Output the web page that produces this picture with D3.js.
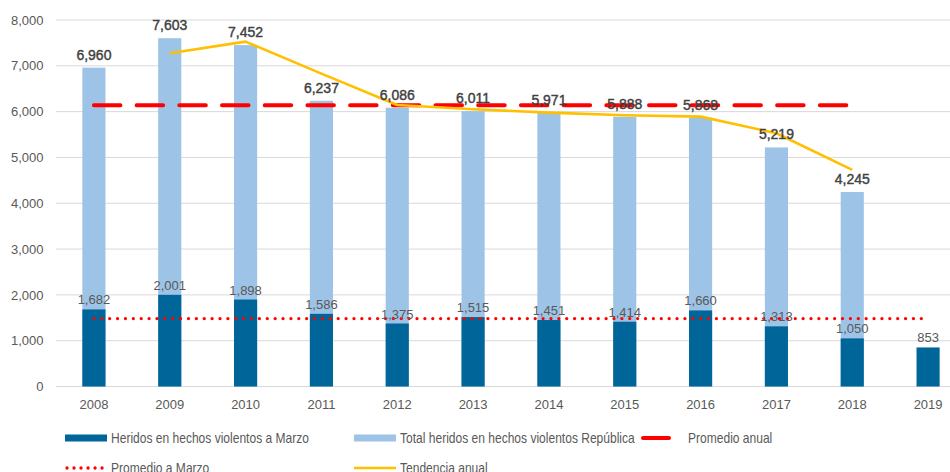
<!DOCTYPE html>
<html><head><meta charset="utf-8">
<script src="https://cdn.jsdelivr.net/npm/d3@7"></script>
<style>
body{margin:0;background:#fff;}
text{font-family:"Liberation Sans",Arial,sans-serif;}
</style></head>
<body><svg id="c" width="950" height="472"></svg>
<script>
const years = ["2008","2009","2010","2011","2012","2013","2014","2015","2016","2017","2018","2019"];
const heridosMarzo = [1682,2001,1898,1586,1375,1515,1451,1414,1660,1313,1050,853];
const totalRepublica = [6960,7603,7452,6237,6086,6011,5971,5888,5868,5219,4245,null];
const promedioAnual = [6140,6140,6140,6140,6140,6140,6140,6140,6140,6140,6140,null];
const promedioMarzo = [1483,1483,1483,1483,1483,1483,1483,1483,1483,1483,1483,1483];
const tendenciaAnual = [null,7273,7528,6830,6146,6052,5978,5921,5891,5528,4727,null];
const yTicks = [0,1000,2000,3000,4000,5000,6000,7000,8000];
const legendLabels = ["Heridos en hechos violentos a Marzo","Total heridos en hechos violentos República","Promedio anual","Promedio a Marzo","Tendencia anual"];

const svg = d3.select("#c");
const x = d3.scaleBand().domain(years).range([56,966]).paddingInner(0.695).paddingOuter(0.3475);
const y = d3.scaleLinear().domain([0,8000]).range([386.5,20]);
const cx = d => x(d) + x.bandwidth()/2;
const fmt = d3.format(",");

// gridlines
svg.append("g").selectAll("line").data(yTicks).join("line")
  .attr("x1",56).attr("x2",950).attr("y1",d=>y(d)).attr("y2",d=>y(d))
  .attr("stroke","#d9d9d9").attr("stroke-width",1);

// y axis
const yAxis = d3.axisLeft(y).tickValues(yTicks).tickFormat(fmt).tickSize(0).tickPadding(0);
const ga = svg.append("g").attr("transform","translate(43.5,0)").call(yAxis);
ga.select(".domain").remove();
ga.selectAll("text").attr("fill","#595959").style("font-size","13px")
  .style("font-family","'Liberation Sans',Arial,sans-serif");

// x axis
const xAxis = d3.axisBottom(x).tickSize(0).tickPadding(0);
const gx = svg.append("g").attr("transform","translate(0,400)").call(xAxis);
gx.select(".domain").remove();
gx.selectAll("text").attr("fill","#595959").style("font-size","13px").attr("dy","0.71em")
  .style("font-family","'Liberation Sans',Arial,sans-serif");

const data = years.map((yr,i)=>({yr, m:heridosMarzo[i], t:totalRepublica[i], pa:promedioAnual[i], pm:promedioMarzo[i], tr:tendenciaAnual[i]}));

// total bars
svg.append("g").selectAll("rect").data(data.filter(d=>d.t!=null)).join("rect")
  .attr("x",d=>x(d.yr)).attr("width",x.bandwidth())
  .attr("y",d=>y(d.t)).attr("height",d=>y(0)-y(d.t)).attr("fill","#9dc3e6");
// marzo bars
svg.append("g").selectAll("rect").data(data).join("rect")
  .attr("x",d=>x(d.yr)).attr("width",x.bandwidth())
  .attr("y",d=>y(d.m)).attr("height",d=>y(0)-y(d.m)).attr("fill","#006699");

// lines
const lineGen = key => d3.line().defined(d=>d[key]!=null).x(d=>cx(d.yr)).y(d=>y(d[key]));
svg.append("path").datum(data).attr("d",lineGen("pa")).attr("fill","none")
  .attr("stroke","#ff0000").attr("stroke-width",4).attr("stroke-dasharray","26.5,16.2").attr("stroke-linecap","round");
svg.append("path").datum(data).attr("d",lineGen("pm")).attr("fill","none")
  .attr("stroke","#ff0000").attr("stroke-width",3.3).attr("stroke-dasharray","0.01,7.87").attr("stroke-linecap","round");
svg.append("path").datum(data).attr("d",lineGen("tr")).attr("fill","none")
  .attr("stroke","#ffc000").attr("stroke-width",2.6).attr("stroke-linejoin","round");

// total labels
svg.append("g").selectAll("text").data(data.filter(d=>d.t!=null)).join("text")
  .attr("x",d=>cx(d.yr)).attr("y",d=>y(d.t)-8).attr("text-anchor","middle")
  .attr("fill","#404040").style("font-size","14px").attr("stroke","#404040").attr("stroke-width",0.4)
  .text(d=>fmt(d.t));
// marzo labels
svg.append("g").selectAll("text").data(data).join("text")
  .attr("x",d=>cx(d.yr)).attr("y",d=>y(d.m)-5).attr("text-anchor","middle")
  .attr("fill","#595959").style("font-size","13px")
  .text(d=>fmt(d.m));

// legend
const lg = svg.append("g");
const items = [
  {x:65,y:438,type:"rect",color:"#006699",label:legendLabels[0],tx:111},
  {x:354,y:438,type:"rect",color:"#9dc3e6",label:legendLabels[1],tx:400},
  {x:641,y:438,type:"dash",color:"#ff0000",label:legendLabels[2],tx:688},
  {x:65,y:468,type:"dot",color:"#ff0000",label:legendLabels[3],tx:111},
  {x:354,y:468,type:"line",color:"#ffc000",label:legendLabels[4],tx:400}
];
items.forEach(it=>{
  if(it.type==="rect"){
    lg.append("rect").attr("x",it.x).attr("y",it.y-3.5).attr("width",42).attr("height",7).attr("fill",it.color);
  } else if(it.type==="dash"){
    lg.append("line").attr("x1",it.x+2).attr("x2",it.x+28).attr("y1",it.y).attr("y2",it.y)
      .attr("stroke",it.color).attr("stroke-width",4).attr("stroke-linecap","round");
  } else if(it.type==="dot"){
    lg.append("line").attr("x1",it.x+2).attr("x2",it.x+42).attr("y1",it.y).attr("y2",it.y)
      .attr("stroke",it.color).attr("stroke-width",3.3).attr("stroke-dasharray","0.01,7").attr("stroke-linecap","round");
  } else {
    lg.append("line").attr("x1",it.x).attr("x2",it.x+42).attr("y1",it.y).attr("y2",it.y)
      .attr("stroke",it.color).attr("stroke-width",2.6);
  }
  lg.append("text").attr("transform",`translate(${it.tx},${it.y}) scale(0.86,1)`).attr("dy","0.36em")
    .attr("fill","#595959").style("font-size","14px").text(it.label);
});
</script></body></html>
